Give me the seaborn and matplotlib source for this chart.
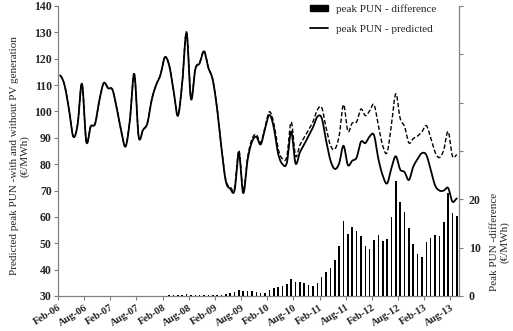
import numpy as np
import pandas as pd
import matplotlib
matplotlib.use("Agg")
import matplotlib.pyplot as plt
import seaborn as sns
from matplotlib.patches import Patch
from matplotlib.lines import Line2D

# Monthly series, Feb-06 .. Sep-13
months = pd.date_range("2006-02-01", "2013-09-01", freq="MS").strftime("%b-%y").tolist()
tick_labels = months[::6]

pun_predicted = [
    113.7, 110.0, 101.0, 90.5, 95.0, 110.5, 88.5, 94.3, 95.3, 104.3, 110.8, 108.8,
    108.2, 101.0, 92.5, 86.7, 96.8, 114.2, 90.5, 93.0, 95.5, 104.4, 110.0, 113.8,
    120.5, 117.5, 108.0, 98.3, 110.7, 129.7, 104.8, 116.0, 118.3, 122.8, 116.5, 112.0,
    101.0, 86.0, 73.5, 70.7, 70.0, 84.1, 69.0, 81.6, 88.5, 90.4, 87.5, 93.5,
    98.7, 94.0, 84.0, 80.0, 80.5, 92.4, 80.3, 84.5, 87.5, 90.8, 94.0, 98.0,
    97.5, 89.0, 81.5, 78.2, 80.3, 87.0, 79.7, 81.3, 82.5, 88.5, 88.0, 90.5,
    91.0, 82.0, 75.7, 72.7, 78.5, 83.0, 78.0, 77.0, 74.0, 79.0, 82.0, 84.2,
    83.5, 78.0, 72.0, 70.0, 70.0, 71.0, 65.8, 67.0,
]

pun_without_pv = [
    113.7, 110.0, 101.0, 90.5, 95.0, 110.5, 88.5, 94.3, 95.3, 104.3, 110.8, 108.8,
    108.3, 101.1, 92.6, 86.8, 96.9, 114.3, 90.6, 93.1, 95.6, 104.5, 110.1, 113.9,
    120.6, 117.7, 108.2, 98.6, 111.0, 130.2, 105.1, 116.3, 118.6, 123.0, 116.7, 112.2,
    101.2, 86.3, 74.0, 71.4, 70.9, 85.3, 70.1, 82.6, 89.5, 91.3, 88.2, 94.2,
    99.9, 95.6, 85.9, 82.0, 82.9, 96.0, 83.1, 87.3, 90.1, 93.1, 96.1, 100.6,
    101.5, 93.9, 87.2, 85.7, 90.7, 102.6, 92.5, 95.6, 96.0, 100.9, 98.4, 100.2,
    102.6, 94.6, 87.0, 84.4, 94.9, 106.7, 97.4, 94.3, 88.1, 89.7, 90.7, 92.3,
    94.6, 90.1, 84.6, 82.5, 85.4, 92.4, 83.0, 83.6,
]

pun_difference = [
    0.0, 0.0, 0.0, 0.0, 0.0, 0.0, 0.0, 0.0, 0.0, 0.0, 0.0, 0.0,
    0.05, 0.05, 0.05, 0.05, 0.05, 0.05, 0.05, 0.05, 0.05, 0.05, 0.05, 0.05,
    0.1, 0.15, 0.2, 0.25, 0.3, 0.45, 0.3, 0.3, 0.25, 0.2, 0.2, 0.2,
    0.2, 0.3, 0.5, 0.7, 0.9, 1.2, 1.1, 1.0, 1.0, 0.9, 0.7, 0.7,
    1.2, 1.6, 1.9, 2.0, 2.4, 3.6, 2.8, 2.8, 2.6, 2.3, 2.1, 2.6,
    4.0, 4.9, 5.7, 7.5, 10.4, 15.6, 12.8, 14.3, 13.5, 12.4, 10.4, 9.7,
    11.6, 12.6, 11.3, 11.7, 16.4, 23.7, 19.4, 17.3, 14.1, 10.7, 8.7, 8.1,
    11.1, 12.1, 12.6, 12.5, 15.4, 21.4, 17.2, 16.6,
]


def smooth(xv, yv, steps=16):
    """Catmull-Rom spline through the monthly points (smoothed line)."""
    xv = np.asarray(xv, float)
    yv = np.asarray(yv, float)
    n = len(yv)
    xs, ys = [], []
    for i in range(n - 1):
        p0 = yv[max(i - 1, 0)]
        p1, p2 = yv[i], yv[i + 1]
        p3 = yv[min(i + 2, n - 1)]
        t = np.linspace(0, 1, steps, endpoint=False)
        yy = 0.5 * (2 * p1 + (-p0 + p2) * t + (2 * p0 - 5 * p1 + 4 * p2 - p3) * t ** 2
                    + (-p0 + 3 * p1 - 3 * p2 + p3) * t ** 3)
        xs.append(xv[i] + (xv[i + 1] - xv[i]) * t)
        ys.append(yy)
    xs.append([xv[-1]])
    ys.append([yv[-1]])
    return np.concatenate(xs), np.concatenate(ys)


sns.set_style("white")
plt.rcParams["font.family"] = ["Liberation Serif", "DejaVu Serif"]

pos = np.arange(len(months)) + 0.5

fig = plt.figure(figsize=(5.13, 3.31), dpi=100)
ax = fig.add_axes([58 / 513, 1 - 296 / 331, (459 - 58) / 513, 290 / 331])
ax2 = ax.twinx()

# difference bars on the secondary axis
sns.barplot(x=pos, y=pun_difference, native_scale=True, width=0.36,
            color="black", saturation=1, linewidth=0, ax=ax2)

# price lines on the primary axis
xw, yw = smooth(pos, pun_without_pv)
sns.lineplot(x=xw, y=yw, ax=ax, color="black", linewidth=1.0,
             estimator=None, sort=False)
ax.lines[-1].set_linestyle((0, (3.2, 1.6)))
xp, yp = smooth(pos, pun_predicted)
sns.lineplot(x=xp, y=yp, ax=ax, color="black", linewidth=1.3,
             estimator=None, sort=False)

ax.set_xlim(0, len(months))
ax.set_ylim(30, 140)
ax2.set_ylim(0, 60)
ax.set_yticks(np.arange(30, 141, 10))
ax.set_yticklabels([str(v) for v in range(30, 141, 10)], fontweight="bold", fontsize=8.5)
ax2.set_yticks(np.arange(0, 61, 10))
ax2.set_yticklabels(["0", "10", "20", "", "", "", ""], fontweight="bold", fontsize=8.5)
ax.set_xticks(np.arange(0, len(months), 6))
ax.set_xticklabels(tick_labels, rotation=32, ha="right", va="top",
                   rotation_mode="anchor", fontweight="bold", fontsize=7.5)
ax2.set_xlabel("")
ax.set_xlabel("")

spine_col = "#808080"
for a in (ax, ax2):
    a.spines["top"].set_visible(False)
    for s in ("left", "right", "bottom"):
        a.spines[s].set_color(spine_col)
        a.spines[s].set_linewidth(0.9)
ax.spines["right"].set_visible(False)
ax2.spines["left"].set_visible(False)
ax2.spines["bottom"].set_visible(False)
ax.tick_params(axis="y", direction="out", length=3, width=0.8, color=spine_col, pad=1.5, left=True)
ax.tick_params(axis="x", direction="out", length=3, width=0.8, color=spine_col, pad=2, bottom=True)
ax2.tick_params(axis="y", direction="out", length=3, width=0.8, color=spine_col, pad=4, right=True)

ax.set_ylabel("Predicted peak PUN -with and without PV generation\n(€/MWh)", fontsize=8)
ax.yaxis.set_label_coords(-0.07, 0.483)
ax2.set_ylabel("Peak PUN -difference\n(€/MWh)", fontsize=8, rotation=90)
ax2.yaxis.set_label_coords(1.077, 0.186)

handles = [Patch(facecolor="black", edgecolor="black", label="peak PUN - difference"),
           Line2D([0], [0], color="black", linewidth=1.3, label="peak PUN - predicted")]
fig.legend(handles=handles, loc="upper left", bbox_to_anchor=(310 / 513, 1 - 4 / 331),
           frameon=False, fontsize=8, handlelength=1.6, handleheight=0.45,
           handletextpad=0.7, labelspacing=1.0, borderpad=0, borderaxespad=0)

fig.savefig("out.png", dpi=100)
